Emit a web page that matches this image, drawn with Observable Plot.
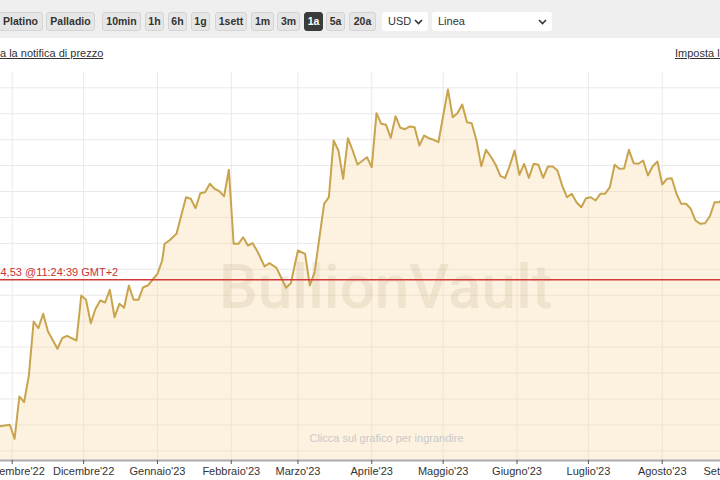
<!DOCTYPE html>
<html>
<head>
<meta charset="utf-8">
<script src="https://cdn.jsdelivr.net/npm/d3@7"></script>
<script src="https://cdn.jsdelivr.net/npm/@observablehq/plot@0.6"></script>
<style>
  html, body { margin: 0; padding: 0; background: #fff; }
  body { width: 720px; height: 480px; overflow: hidden; position: relative; font-family: "Liberation Sans", Arial, sans-serif; color: #333; }
  .toolbar { position: absolute; left: 0; top: 0; width: 720px; height: 38px; background: #efefef; }
  .btn { position: absolute; top: 12px; height: 19px; box-sizing: border-box; border: 1px solid #d4d4d4; border-radius: 3px; background: #e6e6e6; font-weight: bold; font-size: 10.5px; line-height: 17px; text-align: center; color: #333; white-space: nowrap; }
  .btn.active { background: #3b3b3b; border-color: #3b3b3b; color: #fff; }
  .sel { position: absolute; top: 12px; height: 19px; box-sizing: border-box; background: #fff; border-radius: 3px; font-size: 11px; line-height: 19px; padding-left: 6px; color: #333; }
  .sel svg { position: absolute; top: 7px; }
  .link { position: absolute; top: 47px; font-size: 11px; color: #333; text-decoration: underline; white-space: nowrap; }
  #chart { position: absolute; left: 0; top: 72px; width: 720px; }
</style>
</head>
<body>
<div class="toolbar" id="toolbar"></div>
<div class="link" style="left:0px;">a la notifica di prezzo</div>
<div class="link" style="left:675px;">Imposta la valuta</div>
<div id="chart"></div>
<script>
// ---- data (gold price, USD per kg) ----
const dates = [
  "2022-10-25","2022-10-27","2022-10-31","2022-11-02","2022-11-04","2022-11-06","2022-11-08","2022-11-10","2022-11-12","2022-11-14",
  "2022-11-16","2022-11-20","2022-11-22","2022-11-24","2022-11-28","2022-11-30","2022-12-02","2022-12-04","2022-12-06","2022-12-08",
  "2022-12-10","2022-12-12","2022-12-14","2022-12-16","2022-12-18","2022-12-20","2022-12-22","2022-12-24","2022-12-26","2022-12-28",
  "2022-12-30","2023-01-01","2023-01-03","2023-01-04","2023-01-06","2023-01-09","2023-01-13","2023-01-15","2023-01-17","2023-01-19",
  "2023-01-21","2023-01-23","2023-01-25","2023-01-27","2023-01-29","2023-01-31","2023-02-02","2023-02-04","2023-02-06","2023-02-08",
  "2023-02-10","2023-02-12","2023-02-15","2023-02-17","2023-02-20","2023-02-24","2023-02-26","2023-03-01","2023-03-04","2023-03-06",
  "2023-03-08","2023-03-12","2023-03-14","2023-03-16","2023-03-18","2023-03-20","2023-03-22","2023-03-24","2023-03-26","2023-03-30",
  "2023-04-01","2023-04-03","2023-04-05","2023-04-07","2023-04-09","2023-04-11","2023-04-13","2023-04-15","2023-04-17","2023-04-19",
  "2023-04-21","2023-04-23","2023-04-25","2023-04-27","2023-04-29","2023-05-03","2023-05-05","2023-05-07","2023-05-09","2023-05-11",
  "2023-05-13","2023-05-15","2023-05-17","2023-05-19","2023-05-21","2023-05-23","2023-05-25","2023-05-27","2023-05-29","2023-05-31",
  "2023-06-02","2023-06-04","2023-06-06","2023-06-08","2023-06-10","2023-06-12","2023-06-14","2023-06-16","2023-06-18","2023-06-20",
  "2023-06-22","2023-06-24","2023-06-26","2023-06-28","2023-06-30","2023-07-02","2023-07-04","2023-07-06","2023-07-08","2023-07-10",
  "2023-07-12","2023-07-14","2023-07-16","2023-07-18","2023-07-20","2023-07-22","2023-07-24","2023-07-26","2023-07-28","2023-07-30",
  "2023-08-01","2023-08-03","2023-08-05","2023-08-07","2023-08-09","2023-08-11","2023-08-13","2023-08-15","2023-08-17","2023-08-19",
  "2023-08-21","2023-08-23","2023-08-25","2023-08-28"
];
const prices = [
  53100,52950,53004,52464,54095,53875,54905,56987,56729,57284,
  56613,55935,56343,56436,56255,57990,57824,56922,57477,57797,
  57720,58210,57153,57670,57516,58376,57824,57824,58310,58376,
  58607,58827,59340,59984,60111,60370,61781,61719,61357,61935,
  61974,62298,62105,62012,61820,62838,59984,59984,60238,59918,
  60007,59687,59108,59236,59058,58287,58464,59725,59598,58376,
  58889,61526,61781,63968,63582,62491,64056,63582,63042,63324,
  62938,65020,64612,64573,64072,64905,64457,64403,64508,64481,
  63775,64160,64056,63995,63902,65934,64866,65020,65356,64673,
  64635,63968,62977,63609,63351,63042,62606,62514,63003,63582,
  62645,63069,62529,63069,63030,62529,62965,62965,62811,62232,
  61781,61912,61588,61395,61742,61781,61654,61912,61912,62167,
  63030,62876,62888,63609,63092,63069,63196,62618,62977,63158,
  62271,62491,62514,61912,61526,61526,61334,60882,60755,60778,
  61048,61588,61588,61900
];
const currentPrice = 58594.53;
const priceLabel = "4,53 @11:24:39 GMT+2";
const monthNames = ["Gennaio","Febbraio","Marzo","Aprile","Maggio","Giugno","Luglio","Agosto","Settembre","Ottobre","Novembre","Dicembre"];
const gridValues = d3.range(52000, 66001, 1000);
const xStart = new Date(Date.UTC(2022, 9, 27, 2));
const xEnd = new Date(Date.UTC(2023, 7, 25, 11, 30));
const yMin = 51627, yMax = 66590;
const watermark = "BullionVault";
const hint = "Clicca sul grafico per ingrandire";

// ---- toolbar chrome ----
const buttons = [
  ["Platino", -2, 45], ["Palladio", 46, 49], ["10min", 102, 39], ["1h", 145, 19], ["6h", 168, 19],
  ["1g", 191, 19], ["1sett", 215, 32], ["1m", 251, 23], ["3m", 277, 23], ["1a", 304, 19, true],
  ["5a", 326, 19], ["20a", 349, 27]
];
const tb = document.getElementById("toolbar");
for (const [label, left, w, active] of buttons) {
  const b = document.createElement("div");
  b.className = "btn" + (active ? " active" : "");
  b.style.left = left + "px"; b.style.width = w + "px";
  b.textContent = label;
  tb.appendChild(b);
}
const chev = '<svg width="9" height="6" viewBox="0 0 9 6"><polyline points="1,1 4.5,4.5 8,1" fill="none" stroke="#333" stroke-width="1.6"/></svg>';
for (const [label, left, w] of [["USD", 382, 46], ["Linea", 432, 120]]) {
  const s = document.createElement("div");
  s.className = "sel";
  s.style.left = left + "px"; s.style.width = w + "px";
  s.innerHTML = label + chev.replace("<svg", `<svg style="left:${w - 14}px"`);
  tb.appendChild(s);
}

// ---- chart ----
const data = dates.map((d, i) => ({date: new Date(d), value: prices[i]}));
const monthTicks = d3.utcMonth.range(new Date(Date.UTC(2022, 10, 1)), new Date(Date.UTC(2023, 8, 2)));
const gridMonths = monthTicks.filter(d => d >= xStart && d <= xEnd);
const fmt = d => `${monthNames[d.getUTCMonth()]}'${String(d.getUTCFullYear()).slice(2)}`;

const chart = Plot.plot({
  width: 720,
  height: 408,
  marginTop: 0,
  marginBottom: 20,
  marginLeft: 0,
  marginRight: 0,
  x: {type: "utc", domain: [xStart, xEnd]},
  y: {domain: [yMin, yMax], axis: null},
  style: {fontFamily: "'Liberation Sans', Arial, sans-serif", fontSize: "11px", color: "#333", background: "transparent"},
  marks: [
    Plot.ruleY(gridValues, {stroke: "#e9e9e9", strokeWidth: 1}),
    Plot.ruleX(gridMonths, {stroke: "#e9e9e9", strokeWidth: 1}),
    Plot.areaY(data, {x: "date", y1: yMin, y2: "value", fill: "#F9DBA5", fillOpacity: 0.35, clip: true}),
    Plot.text([watermark], {frameAnchor: "middle", dx: 25, dy: 22, fontSize: 62, fontWeight: 500, fontFamily: "Roboto, 'Liberation Sans', sans-serif", fill: "#967846", fillOpacity: 0.12}),
    Plot.text([hint], {frameAnchor: "bottom", dx: 26, dy: -19, fill: "#c9c9c9", fontSize: 11}),
    Plot.lineY(data, {x: "date", y: "value", stroke: "#C8A44E", strokeWidth: 2, clip: true}),
    Plot.ruleY([currentPrice], {stroke: "#d23a3a", strokeWidth: 1.5}),
    Plot.text([{label: priceLabel, price: currentPrice}], {y: "price", text: "label", frameAnchor: "left", textAnchor: "start", dy: -7, fill: "#c83232", fontSize: 11}),
    Plot.ruleY([yMin], {stroke: "#ababab", strokeWidth: 2}),
    Plot.axisX(monthTicks, {tickSize: 4, tickPadding: 3, tickFormat: fmt, stroke: "#555", fill: "#333"})
  ]
});
document.getElementById("chart").appendChild(chart);
</script>
</body>
</html>
